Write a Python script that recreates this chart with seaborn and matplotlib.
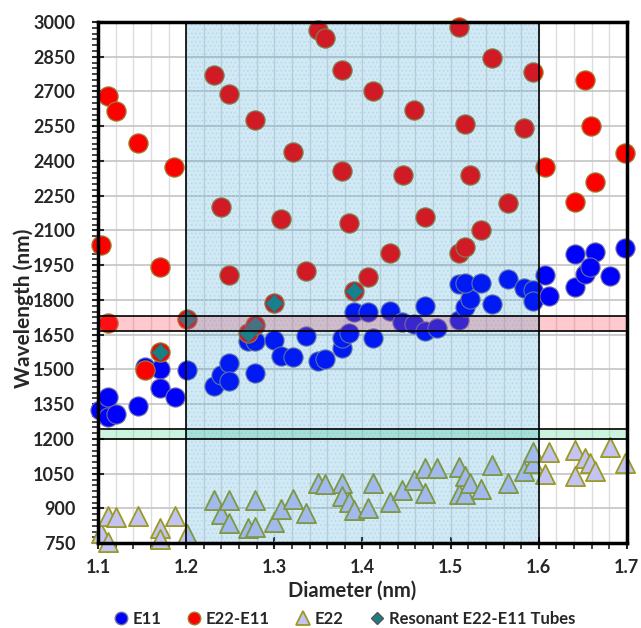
import numpy as np
import pandas as pd
import seaborn as sns
import matplotlib.pyplot as plt
from matplotlib.lines import Line2D
from matplotlib.ticker import MultipleLocator

# E11 (nm)
e11_d = [1.102, 1.111, 1.111, 1.120, 1.145, 1.153, 1.170, 1.170, 1.187, 1.201,
         1.232, 1.240, 1.248, 1.248, 1.270, 1.278, 1.278, 1.300, 1.307, 1.321,
         1.336, 1.350, 1.357, 1.377, 1.377, 1.385, 1.390, 1.406, 1.412, 1.431,
         1.445, 1.458, 1.471, 1.471, 1.484, 1.509, 1.516, 1.522, 1.509, 1.516,
         1.534, 1.547, 1.565, 1.583, 1.594, 1.594, 1.607, 1.612, 1.641, 1.653,
         1.681, 1.641, 1.664, 1.658, 1.698]
e11_w = [1325, 1382, 1296, 1307, 1343, 1512, 1500, 1418, 1382, 1497,
         1428, 1476, 1529, 1450, 1624, 1623, 1486, 1627, 1558, 1555,
         1644, 1536, 1545, 1591, 1634, 1656, 1749, 1749, 1634, 1753,
         1705, 1696, 1774, 1666, 1680, 1713, 1768, 1803, 1869, 1872,
         1875, 1782, 1889, 1850, 1843, 1795, 1908, 1818, 1855, 1912,
         1903, 1997, 2007, 1944, 2023]

# E22-E11 resonance
e2211_d = [1.350, 1.357, 1.232, 1.377, 1.111, 1.248, 1.120, 1.278, 1.145, 1.321,
           1.186, 1.377, 1.240, 1.307, 1.385, 1.103, 1.170, 1.248, 1.336, 1.509,
           1.547, 1.594, 1.653, 1.412, 1.458, 1.516, 1.583, 1.659, 1.698, 1.446,
           1.522, 1.607, 1.664, 1.641, 1.565, 1.471, 1.534, 1.431, 1.509, 1.516,
           1.406, 1.111, 1.153, 1.170, 1.201, 1.270, 1.278, 1.300, 1.390]
e2211_w = [2965, 2932, 2771, 2791, 2680, 2690, 2614, 2576, 2478, 2440,
           2375, 2357, 2200, 2148, 2131, 2037, 1941, 1906, 1926, 2977,
           2843, 2783, 2750, 2700, 2619, 2561, 2544, 2552, 2433, 2341,
           2338, 2373, 2309, 2224, 2217, 2157, 2103, 2001, 2001, 2030,
           1898, 1699, 1497, 1574, 1720, 1658, 1692, 1785, 1839]

# E22
e22_d = [1.103, 1.111, 1.120, 1.111, 1.145, 1.170, 1.170, 1.187, 1.201, 1.232,
         1.240, 1.248, 1.248, 1.270, 1.278, 1.278, 1.300, 1.307, 1.321, 1.336,
         1.350, 1.357, 1.377, 1.377, 1.385, 1.390, 1.406, 1.412, 1.431, 1.445,
         1.458, 1.471, 1.471, 1.484, 1.509, 1.509, 1.516, 1.516, 1.522, 1.534,
         1.547, 1.565, 1.583, 1.594, 1.594, 1.607, 1.612, 1.641, 1.641, 1.653,
         1.658, 1.664, 1.681, 1.698]
e22_w = [792, 867, 864, 756, 867, 814, 767, 867, 788, 936,
         874, 936, 838, 817, 936, 821, 842, 897, 943, 881,
         1008, 1005, 1008, 953, 926, 893, 900, 1011, 926, 979,
         1022, 1073, 965, 1076, 1080, 961, 1040, 961, 1008, 984,
         1087, 1011, 1063, 1098, 1145, 1048, 1145, 1152, 1041, 1120,
         1095, 1063, 1164, 1095]

# resonant tubes
res_d = [1.170, 1.201, 1.270, 1.278, 1.300, 1.390]
res_w = [1574, 1720, 1658, 1692, 1785, 1839]

# shaded regions
dia_window = (1.2, 1.6)
band_pink = (1666, 1731)
band_green = (1198, 1245)

sns.set_style("white")
plt.rcParams['font.family'] = ['Lato', 'DejaVu Sans']
plt.rcParams['font.weight'] = 'bold'
plt.rcParams['hatch.linewidth'] = 0.5

fig = plt.figure(figsize=(6.41, 6.28), dpi=100)
ax = fig.add_axes([0.153, 0.135, 0.825, 0.830])

df11 = pd.DataFrame({'d': e11_d, 'w': e11_w})
df2211 = pd.DataFrame({'d': e2211_d, 'w': e2211_w})
df22 = pd.DataFrame({'d': e22_d, 'w': e22_w})
dfres = pd.DataFrame({'d': res_d, 'w': res_w})

# faint dotted texture of the diameter window, under the points
ax.axvspan(*dia_window, fill=False, hatch='....', edgecolor='#dce8f0', lw=0, zorder=1)

sns.scatterplot(data=df22, x='d', y='w', ax=ax, marker='^', s=190, color='#C4C4F4',
                edgecolor='#9A9A22', linewidth=1.3, zorder=3, clip_on=False)
sns.scatterplot(data=df11, x='d', y='w', ax=ax, marker='o', s=190, color='#0000FF',
                edgecolor='#6E6E9E', linewidth=0.8, zorder=3, clip_on=False)
sns.scatterplot(data=df2211, x='d', y='w', ax=ax, marker='o', s=190, color='#FF0000',
                edgecolor='#9C7A30', linewidth=0.9, zorder=3.2, clip_on=False)
sns.scatterplot(data=dfres, x='d', y='w', ax=ax, marker='D', s=80, color='#1A7F80',
                edgecolor='#555555', linewidth=0.6, zorder=3.3, clip_on=False)

# bands drawn over the points
ax.axhspan(*band_pink, color=(1.0, 0.22, 0.30), alpha=0.27, lw=0, zorder=4)
ax.axhspan(*band_green, color=(0.0, 0.78, 0.35), alpha=0.2, lw=0, zorder=4)
for yv in band_pink + band_green:
    ax.axhline(yv, color='black', lw=1.2, zorder=6)

# diameter window overlay
ax.axvspan(*dia_window, color=(0.04, 0.55, 0.78), alpha=0.19, lw=0, zorder=5)
for xv in dia_window:
    ax.axvline(xv, color='black', lw=1.2, zorder=6)

ax.set_xlim(1.1, 1.7)
ax.set_ylim(750, 3000)
ax.xaxis.set_major_locator(MultipleLocator(0.1))
ax.xaxis.set_minor_locator(MultipleLocator(0.02))
ax.yaxis.set_major_locator(MultipleLocator(150))
ax.yaxis.set_minor_locator(MultipleLocator(25))
ax.xaxis.set_major_formatter(plt.FormatStrFormatter('%.1f'))

ax.grid(which='major', axis='y', color='#C8C8C8', lw=1.3, zorder=0)
ax.grid(which='both', axis='x', color='#DDDDDD', lw=1.0, zorder=0)
ax.set_axisbelow(True)

ax.tick_params(which='major', direction='inout', length=9, width=1.5, labelsize=13,
               left=True, bottom=True)
ax.tick_params(axis='x', which='major', pad=7)
ax.tick_params(axis='y', which='major', pad=12)
ax.tick_params(which='minor', direction='out', length=4, width=1.2, left=True, bottom=True)
for lab in ax.get_xticklabels() + ax.get_yticklabels():
    lab.set_fontweight('bold')

for sp in ax.spines.values():
    sp.set_color('black')
    sp.set_linewidth(2.5)
    sp.set_zorder(7)

ax.set_xlabel('Diameter (nm)', fontsize=14.5, fontweight='bold', va='center')
ax.set_ylabel('Wavelength (nm)', fontsize=15, fontweight='bold', va='center')
ax.xaxis.set_label_coords(0.48, -0.091)
ax.yaxis.set_label_coords(-0.14, 0.45)

handles = [
    Line2D([], [], ls='', marker='o', ms=9, mfc='#0000FF', mec='#6E6E9E'),
    Line2D([], [], ls='', marker='o', ms=9, mfc='#FF0000', mec='#9C7A30'),
    Line2D([], [], ls='', marker='^', ms=10, mfc='#C4C4F4', mec='#9A9A22', mew=1.3),
    Line2D([], [], ls='', marker='D', ms=6.5, mfc='#1A7F80', mec='#555555'),
]
labels = ['E11', 'E22-E11', 'E22', 'Resonant E22-E11 Tubes']
fig.legend(handles, labels, loc='center', bbox_to_anchor=(0.535, 1 - 619 / 628), ncol=4,
           frameon=False, prop={'weight': 'bold', 'size': 12},
           handletextpad=0.1, columnspacing=1.4, handlelength=1.2)

fig.savefig('out.png', dpi=100)
